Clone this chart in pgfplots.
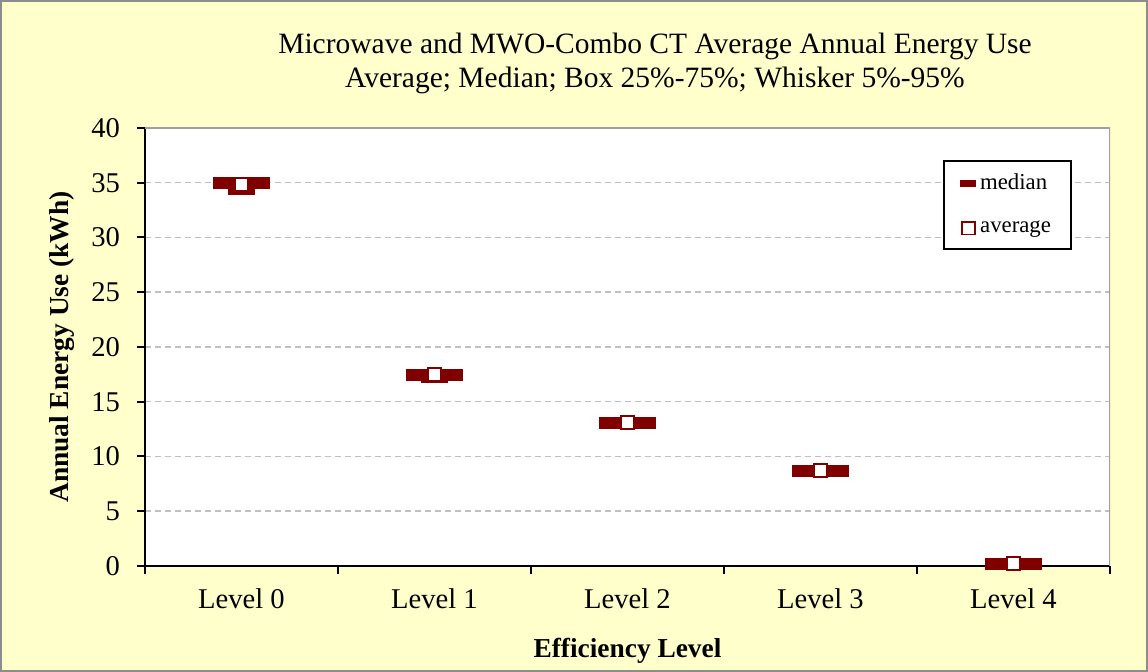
\documentclass[border=0pt]{standalone}
\usepackage{fontspec}
\setmainfont{Liberation Serif}
\usepackage{pgfplots}
\pgfplotsset{compat=1.18}
\definecolor{bgyel}{HTML}{FFFFCC}
\definecolor{dred}{HTML}{800000}
\definecolor{framegray}{HTML}{8C8C8C}
\definecolor{gridgray}{HTML}{C0C0C0}
\definecolor{plotgray}{HTML}{A0A0A0}
\begin{document}
\begin{tikzpicture}
\fill[bgyel] (0,0) rectangle (574pt,336pt);
\draw[framegray, line width=1pt] (0.5pt,0.5pt) rectangle (573.5pt,335.5pt);
\useasboundingbox (0,0) rectangle (574pt,336pt);
\node[align=center, font=\fontsize{14.75}{17}\selectfont] at (327.5pt,304.5pt)
 {Microwave and MWO-Combo CT Average Annual Energy Use\\Average; Median; Box 25\%-75\%; Whisker 5\%-95\%};
\begin{axis}[
 at={(72.5pt,53pt)}, anchor=south west,
 scale only axis, width=482.5pt, height=219pt,
 xmin=-0.5, xmax=4.5, ymin=0, ymax=40,
 axis background/.style={fill=white},
 axis lines=left, axis line style={-, black, line width=1pt},
 tick align=outside,
 xtick={0,1,2,3,4}, xticklabels={Level 0,Level 1,Level 2,Level 3,Level 4},
 minor xtick={-0.5,0.5,1.5,2.5,3.5,4.5},
 major x tick style={draw=none},
 minor tick length=4pt, major tick length=4pt,
 tick style={black, line width=1pt},
 ytick={0,5,...,40},
 ymajorgrids, major grid style={gridgray, line width=0.75pt, dash pattern=on 3pt off 2pt},
 ticklabel style={font=\fontsize{14.3}{16}\selectfont},
 yticklabel style={xshift=-5pt},
 xticklabel style={yshift=-4pt},
 /pgf/number format/assume math mode=true,
 xlabel={Efficiency Level}, ylabel={Annual Energy Use (kWh)},
 label style={font=\bfseries\fontsize{13.7}{16}\selectfont},
 xlabel style={at={(axis description cs:0.5,-0.194)}, anchor=center},
 ylabel style={at={(axis description cs:-0.086,0.5)}, anchor=center},
 legend style={at={(1,1)}, anchor=north east, xshift=-19pt, yshift=-16pt,
   draw=black, line width=1pt, fill=white, font=\fontsize{11.4}{13}\selectfont,
   row sep=10pt, inner xsep=8pt, inner ysep=4.5pt},
 legend cell align=left,
]
\draw[plotgray, line width=1pt] (rel axis cs:0,1) -- (rel axis cs:1,1) -- (rel axis cs:1,0);
% boxes (25%-75%)
\addplot[fill=dred, draw=none, forget plot] coordinates {(-0.072,33.88) (0.072,33.88) (0.072,34.95) (-0.072,34.95)};
\addplot[fill=dred, draw=none, forget plot] coordinates {(0.928,16.74) (1.072,16.74) (1.072,17.44) (0.928,17.44)};
% median
\addplot[only marks, mark=-, mark options={dred, line width=6pt, mark size=14.25pt},
  legend image code/.code={\fill[dred] (0pt,-1.25pt) rectangle (7pt,1.25pt);}]
 coordinates {(0,34.95) (1,17.44) (2,13.08) (3,8.70) (4,0.2)};
\addlegendentry{median}
% average
\addplot[only marks, mark=square*, mark options={draw=dred, fill=white, line width=1pt, mark size=3.25pt},
  legend image code/.code={\draw[dred, fill=white, line width=0.8pt] (0.4pt,-3.2pt) rectangle (6.8pt,3.2pt);}]
 coordinates {(0,34.86) (1,17.46) (2,13.08) (3,8.72) (4,0.2)};
\addlegendentry{average}
\end{axis}
\end{tikzpicture}
\end{document}
